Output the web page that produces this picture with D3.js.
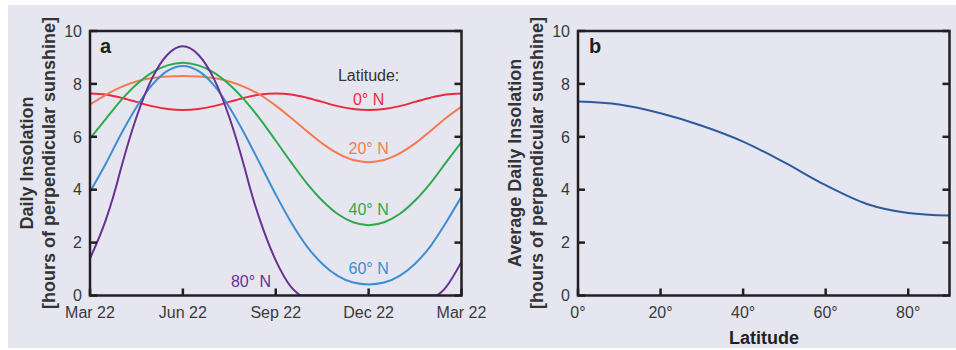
<!DOCTYPE html>
<html>
<head>
<meta charset="utf-8">
<script src="https://cdn.jsdelivr.net/npm/d3@7"></script>
<style>
  html, body { margin: 0; padding: 0; background: #ffffff; }
  svg { display: block; font-family: "Liberation Sans", Arial, Helvetica, sans-serif; }
</style>
</head>
<body>
<svg id="chart" width="956" height="350"></svg>
<script>
// ---------------- DATA ----------------
// Panel a: months after Mar 22 (0..12)
const monthTicks = [0, 3, 6, 9, 12];
const monthTickLabels = ["Mar 22", "Jun 22", "Sep 22", "Dec 22", "Mar 22"];
const monthsGrid = [0,0.5,1,1.5,2,2.5,3,3.5,4,4.5,5,5.5,6,6.5,7,7.5,8,8.5,9,9.5,10,10.5,11,11.5,12];
const lat0  = [7.64,7.60,7.48,7.32,7.16,7.05,7.01,7.05,7.16,7.32,7.48,7.60,7.64,7.60,7.48,7.32,7.16,7.05,7.01,7.05,7.16,7.32,7.48,7.60,7.64];
const lat20 = [7.22,7.58,7.88,8.09,8.22,8.28,8.30,8.28,8.22,8.09,7.88,7.58,7.18,6.71,6.22,5.75,5.37,5.12,5.04,5.12,5.37,5.75,6.22,6.71,7.14];
const lat40 = [5.93,6.66,7.38,7.98,8.43,8.70,8.80,8.70,8.43,7.98,7.38,6.66,5.85,5.03,4.25,3.59,3.08,2.77,2.66,2.77,3.08,3.59,4.25,5.03,5.80];
const lat60 = [3.92,4.96,6.10,7.12,7.95,8.49,8.68,8.49,7.95,7.12,6.10,4.96,3.82,2.76,1.87,1.20,0.74,0.49,0.42,0.49,0.74,1.20,1.87,2.76,3.74];
const months80 = [0,0.5,0.75,0.84,1,1.5,2,2.5,3,3.5,4,4.5,5,5.16,5.25,5.5,6,6.5,6.63,6.75,6.84,9,11.16,11.25,11.38,11.5,12];
const lat80    = [1.40,2.82,3.73,4.10,4.80,6.74,8.20,9.10,9.42,9.10,8.20,6.74,4.80,4.10,3.73,2.82,1.33,0.32,0.16,0.04,0,0,0,0.04,0.16,0.32,1.27];
const seriesNames = ["0° N", "20° N", "40° N", "60° N", "80° N"];
const seriesColors = ["#ec2a3c", "#f57a4e", "#2bab4b", "#3d8ed0", "#693192"];

// Panel b: latitude vs average daily insolation
const latitudes = [0,10,20,30,40,50,60,70,80,90];
const avgInsolation = [7.33,7.22,6.89,6.42,5.82,5.03,4.17,3.46,3.12,3.02];
const latTicks = [0, 20, 40, 60, 80];
const yTicks = [0, 2, 4, 6, 8, 10];

// ---------------- DRAW ----------------
const svg = d3.select("#chart");
svg.append("rect").attr("x", 8).attr("y", 5).attr("width", 948).attr("height", 343).attr("fill", "#e6e6f1");

const axisColor = "#231f20";
const textColor = "#3a3a3a";
const plotTop = 31, plotBottom = 295.5;

function frame(g, x0, x1, y, xScale, xTickVals) {
  const tl = 7;
  yTicks.forEach(v => {
    g.append("line").attr("x1", x0).attr("x2", x0 + tl).attr("y1", y(v)).attr("y2", y(v))
      .attr("stroke", axisColor).attr("stroke-width", 2.5);
    g.append("line").attr("x1", x1).attr("x2", x1 - tl).attr("y1", y(v)).attr("y2", y(v))
      .attr("stroke", axisColor).attr("stroke-width", 2.5);
  });
  xTickVals.forEach(v => {
    g.append("line").attr("x1", xScale(v)).attr("x2", xScale(v)).attr("y1", plotBottom).attr("y2", plotBottom - tl)
      .attr("stroke", axisColor).attr("stroke-width", 2.5);
  });
  g.append("rect").attr("x", x0).attr("y", plotTop).attr("width", x1 - x0).attr("height", plotBottom - plotTop)
    .attr("fill", "none").attr("stroke", axisColor).attr("stroke-width", 2.5);
  yTicks.forEach(v => {
    g.append("text").attr("x", x0 - 8).attr("y", y(v)).attr("dy", "0.36em")
      .attr("text-anchor", "end").attr("font-size", 16).attr("fill", textColor).text(v);
  });
}

// ---- Panel a ----
const xA = d3.scaleLinear().domain([0, 12]).range([90, 461.5]);
const yA = d3.scaleLinear().domain([0, 10]).range([plotBottom, plotTop]);
const gA = svg.append("g");

svg.append("defs").append("clipPath").attr("id", "clipA")
  .append("rect").attr("x", 90).attr("y", plotTop).attr("width", 371.5).attr("height", plotBottom - plotTop);

const lineA = d3.line().x(d => xA(d[0])).y(d => yA(d[1])).curve(d3.curveMonotoneX);
const seriesData = [
  d3.zip(monthsGrid, lat0),
  d3.zip(monthsGrid, lat20),
  d3.zip(monthsGrid, lat40),
  d3.zip(monthsGrid, lat60),
  d3.zip(months80, lat80)
];
const curvesA = gA.append("g").attr("clip-path", "url(#clipA)");
seriesData.forEach((s, i) => {
  curvesA.append("path").datum(s).attr("d", lineA).attr("fill", "none")
    .attr("stroke", seriesColors[i]).attr("stroke-width", 2);
});
frame(gA, 90, 461.5, yA, xA, monthTicks);

monthTicks.forEach((v, i) => {
  gA.append("text").attr("x", xA(v)).attr("y", 318).attr("text-anchor", "middle")
    .attr("font-size", 16).attr("fill", textColor).text(monthTickLabels[i]);
});

gA.append("text").attr("x", xA(9)).attr("y", yA(8.1)).attr("text-anchor", "middle")
  .attr("font-size", 16).attr("fill", "#333").text("Latitude:");
const labelPos = [[9, 7.22], [9, 5.36], [9, 3.03], [9, 0.80], [5.2, 0.34]];
labelPos.forEach((p, i) => {
  gA.append("text").attr("x", xA(p[0])).attr("y", yA(p[1])).attr("text-anchor", "middle")
    .attr("font-size", 16).attr("fill", seriesColors[i]).text(seriesNames[i]);
});

gA.append("text").attr("x", 100).attr("y", 53).attr("font-size", 20).attr("font-weight", "bold")
  .attr("fill", "#231f20").text("a");

gA.append("text").attr("transform", "translate(32.5,163) rotate(-90)")
  .attr("text-anchor", "middle").attr("font-size", 18).attr("font-weight", "bold").attr("fill", "#333")
  .text("Daily Insolation");
gA.append("text").attr("transform", "translate(54.5,163) rotate(-90)")
  .attr("text-anchor", "middle").attr("font-size", 18).attr("font-weight", "bold").attr("fill", "#333")
  .text("[hours of perpendicular sunshine]");

// ---- Panel b ----
const xB = d3.scaleLinear().domain([0, 90]).range([578, 949.5]);
const yB = d3.scaleLinear().domain([0, 10]).range([plotBottom, plotTop]);
const gB = svg.append("g");
const lineB = d3.line().x(d => xB(d[0])).y(d => yB(d[1])).curve(d3.curveMonotoneX);
gB.append("path").datum(d3.zip(latitudes, avgInsolation)).attr("d", lineB)
  .attr("fill", "none").attr("stroke", "#2d5a9e").attr("stroke-width", 2);
frame(gB, 578, 949.5, yB, xB, latTicks);
latTicks.forEach(v => {
  gB.append("text").attr("x", xB(v)).attr("y", 318).attr("text-anchor", "middle")
    .attr("font-size", 16).attr("fill", textColor).text(v + "°");
});
gB.append("text").attr("x", 589).attr("y", 53).attr("font-size", 20).attr("font-weight", "bold")
  .attr("fill", "#231f20").text("b");
gB.append("text").attr("x", 764).attr("y", 344).attr("text-anchor", "middle")
  .attr("font-size", 18).attr("font-weight", "bold").attr("fill", "#231f20").text("Latitude");
gB.append("text").attr("transform", "translate(521,163) rotate(-90)")
  .attr("text-anchor", "middle").attr("font-size", 18).attr("font-weight", "bold").attr("fill", "#333")
  .text("Average Daily Insolation");
gB.append("text").attr("transform", "translate(543,163) rotate(-90)")
  .attr("text-anchor", "middle").attr("font-size", 18).attr("font-weight", "bold").attr("fill", "#333")
  .text("[hours of perpendicular sunshine]");
</script>
</body>
</html>
